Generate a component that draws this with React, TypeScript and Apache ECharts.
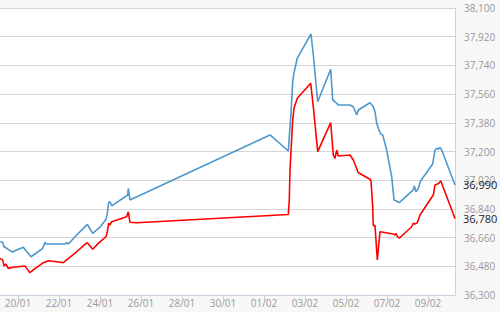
import React, { useEffect, useRef } from "react";
import * as echarts from "echarts";

// x = days counted from 18/01 (2 = 20/01)
const xTickDays = [2, 4, 6, 8, 10, 12, 14, 16, 18, 20, 22];
const xTickLabels = ["20/01", "22/01", "24/01", "26/01", "28/01", "30/01", "01/02", "03/02", "05/02", "07/02", "09/02"];

const blueDays = [1.122, 1.254, 1.317, 1.449, 1.61, 1.741, 1.937, 2.259, 2.39, 2.634, 2.912, 3.205, 3.317, 3.366, 3.722, 4.293, 4.376, 4.454, 4.863, 5.38, 5.478, 5.644, 6.0, 6.293, 6.356, 6.424, 6.488, 6.571, 6.732, 7.351, 7.38, 7.463, 7.561, 14.293, 15.185, 15.317, 15.4, 15.463, 15.624, 15.756, 16.293, 16.405, 16.62, 17.254, 17.351, 17.463, 17.624, 18.195, 18.356, 18.522, 18.6, 19.171, 19.332, 19.415, 19.498, 19.576, 19.693, 19.79, 19.985, 20.229, 20.341, 20.439, 20.6, 21.283, 21.332, 21.415, 21.527, 21.644, 22.229, 22.341, 22.424, 22.502, 22.585, 22.668, 23.317];
const blueValues = [36634, 36631, 36603, 36593, 36578, 36570, 36582, 36599, 36578, 36540, 36565, 36593, 36631, 36620, 36620, 36620, 36628, 36620, 36676, 36743, 36722, 36687, 36725, 36775, 36812, 36879, 36885, 36860, 36873, 36927, 36968, 36896, 36902, 37304, 37203, 37441, 37638, 37694, 37785, 37816, 37937, 37805, 37512, 37716, 37523, 37512, 37492, 37492, 37481, 37429, 37460, 37506, 37481, 37450, 37377, 37346, 37310, 37304, 37209, 37042, 36896, 36891, 36879, 36959, 36984, 36948, 36969, 37017, 37122, 37209, 37220, 37214, 37226, 37209, 36990];

const redDays = [1.122, 1.254, 1.317, 1.415, 1.527, 1.771, 2.341, 2.424, 2.585, 2.746, 3.234, 3.478, 3.888, 4.21, 4.376, 4.78, 5.268, 5.38, 5.478, 5.644, 5.917, 6.293, 6.356, 6.424, 6.488, 6.571, 7.302, 7.38, 7.463, 7.79, 15.185, 15.234, 15.268, 15.4, 15.463, 15.624, 16.278, 16.405, 16.62, 17.254, 17.38, 17.463, 17.546, 17.624, 18.195, 18.356, 18.6, 19.171, 19.22, 19.302, 19.332, 19.415, 19.527, 19.659, 20.307, 20.39, 20.439, 20.488, 20.6, 21.205, 21.283, 21.366, 21.478, 21.61, 22.259, 22.341, 22.454, 22.537, 22.62, 23.317];
const redValues = [36530, 36520, 36482, 36494, 36467, 36474, 36482, 36467, 36440, 36457, 36503, 36515, 36509, 36503, 36520, 36562, 36618, 36628, 36614, 36587, 36624, 36666, 36697, 36750, 36739, 36760, 36791, 36822, 36756, 36753, 36805, 36896, 37084, 37398, 37471, 37534, 37628, 37481, 37199, 37381, 37178, 37157, 37209, 37172, 37178, 37147, 37067, 37026, 37015, 36854, 36735, 36735, 36520, 36697, 36683, 36676, 36687, 36670, 36656, 36728, 36750, 36745, 36753, 36802, 36927, 36990, 36996, 37001, 37017, 36780];

const fmt = (v: number) => Math.round(v).toLocaleString("en-US");

export default function App() {
  const ref = useRef<HTMLDivElement>(null);
  useEffect(() => {
    document.body.style.margin = "0";
    const chart = echarts.init(ref.current!, null, { renderer: "svg" });
    const zip = (d: number[], v: number[]) => d.map((x, i) => [x, v[i]]);
    const font = "'Open Sans', sans-serif";
    chart.setOption({
      animation: false,
      backgroundColor: "#f7f7f7",
      grid: {
        left: 0,
        right: 45,
        top: 8,
        bottom: 17,
        show: true,
        backgroundColor: "#ffffff",
        borderWidth: 0,
      },
      xAxis: {
        type: "value",
        min: 1.122,
        max: 23.317,
        axisLine: { show: true, lineStyle: { color: "#c8d3e0", width: 1 } },
        axisTick: { show: true, length: 5, customValues: xTickDays, lineStyle: { color: "#c8d3e0" } },
        axisLabel: {
          customValues: xTickDays,
          color: "#9a9a9a",
          fontSize: 10,
          fontFamily: font,
          margin: 3,
          formatter: (v: number) => xTickLabels[xTickDays.indexOf(v)] ?? "",
        },
        splitLine: { show: false },
      },
      yAxis: {
        type: "value",
        position: "right",
        min: 36300,
        max: 38100,
        interval: 180,
        axisLine: { show: true, lineStyle: { color: "#c8d3e0", width: 1 } },
        axisTick: { show: false },
        axisLabel: { color: "#9a9a9a", fontSize: 10, fontFamily: font, margin: 9, formatter: (v: number) => fmt(v) },
        splitLine: { show: true, lineStyle: { color: "#d6d6d6", width: 1 } },
      },
      series: [
        {
          type: "line",
          data: zip(blueDays, blueValues),
          symbol: "none",
          lineStyle: { color: "#4d98cc", width: 1.6 },
          endLabel: {
            show: true,
            distance: 8,
            color: "#222",
            fontSize: 11,
            fontFamily: font,
            formatter: (p: any) => fmt(p.value[1]),
          },
        },
        {
          type: "line",
          data: zip(redDays, redValues),
          symbol: "none",
          lineStyle: { color: "#ff0000", width: 1.6 },
          endLabel: {
            show: true,
            distance: 8,
            color: "#222",
            fontSize: 11,
            fontFamily: font,
            formatter: (p: any) => fmt(p.value[1]),
          },
        },
      ],
    });
    return () => chart.dispose();
  }, []);
  return <div ref={ref} style={{ position: "absolute", left: 0, top: 0, width: 500, height: 312 }} />;
}
